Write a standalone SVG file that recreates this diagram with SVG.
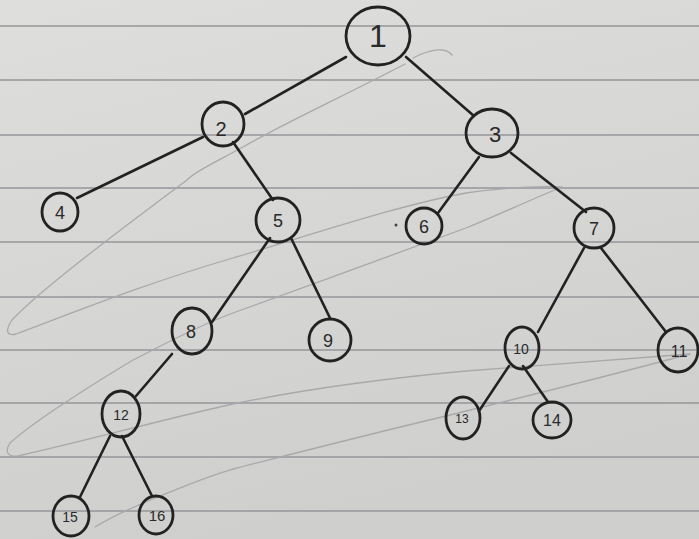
<svg xmlns="http://www.w3.org/2000/svg" width="699" height="539" viewBox="0 0 699 539">
<defs>
<linearGradient id="paper" x1="0" y1="0" x2="0.3" y2="1">
<stop offset="0" stop-color="#dededd"/>
<stop offset="1" stop-color="#cfcfce"/>
</linearGradient>
<style>
.rule{stroke:#96969a;stroke-width:1.6;fill:none}
.pencil{stroke:#a9a9ab;stroke-width:1.3;fill:none;stroke-linecap:round;stroke-linejoin:round}
.edge{stroke:#222;stroke-width:2.6;stroke-linecap:round;fill:none}
.node ellipse{fill:none;stroke:#222;stroke-width:2.8}
.node text{font-family:"Liberation Sans","DejaVu Sans",sans-serif;fill:#2a2a2a;text-anchor:middle}
</style>
</defs>
<rect width="699" height="539" fill="url(#paper)"/>
<g id="ruling">
<line class="rule" x1="0" y1="26" x2="699" y2="26"/>
<line class="rule" x1="0" y1="80" x2="699" y2="80"/>
<line class="rule" x1="0" y1="135" x2="699" y2="135"/>
<line class="rule" x1="0" y1="188" x2="699" y2="188"/>
<line class="rule" x1="0" y1="242" x2="699" y2="242"/>
<line class="rule" x1="0" y1="297" x2="699" y2="297"/>
<line class="rule" x1="0" y1="350" x2="699" y2="350"/>
<line class="rule" x1="0" y1="403" x2="699" y2="403"/>
<line class="rule" x1="0" y1="457" x2="699" y2="457"/>
<line class="rule" x1="0" y1="511" x2="699" y2="511"/>
</g>
<g id="scribble">
<path class="pencil" d="M413,58 C428,50 445,46 452,55"/>
<path class="pencil" d="M405,64 C340,98 290,120 243,147 C210,165 195,172 187,180 C120,230 40,290 12,320 C4,332 8,336 16,334 C80,310 150,282 233,258 C320,232 400,205 466,193 C510,187 540,186 562,187 C530,200 500,214 466,228 C390,256 310,285 233,313 C195,327 165,344 133,360 C80,392 30,425 10,443 C4,452 8,457 18,456 C90,440 160,420 233,404 C310,388 390,378 466,371 C560,364 640,358 690,354 C600,378 520,398 446,416 C370,434 300,452 233,469 C205,477 180,488 160,496 C130,508 110,518 95,527"/>
<circle cx="396" cy="225" r="1.5" fill="#444"/>
</g>
<g id="connectors">
<line class="edge" x1="346" y1="57" x2="245" y2="114"/>
<line class="edge" x1="406" y1="57" x2="474" y2="116"/>
<line class="edge" x1="203" y1="137" x2="77" y2="198"/>
<line class="edge" x1="233" y1="142" x2="273" y2="200"/>
<line class="edge" x1="479" y1="157" x2="438" y2="213"/>
<line class="edge" x1="511" y1="153" x2="586" y2="212"/>
<line class="edge" x1="270" y1="238" x2="212" y2="322"/>
<line class="edge" x1="291" y1="238" x2="330" y2="318"/>
<line class="edge" x1="584" y1="248" x2="538" y2="332"/>
<line class="edge" x1="601" y1="248" x2="666" y2="332"/>
<line class="edge" x1="172" y1="354" x2="136" y2="396"/>
<line class="edge" x1="110" y1="436" x2="80" y2="497"/>
<line class="edge" x1="122" y1="436" x2="152" y2="496"/>
<line class="edge" x1="509" y1="366" x2="479" y2="411"/>
<line class="edge" x1="523" y1="366" x2="548" y2="402"/>
</g>
<g id="n1" class="node"><ellipse cx="378" cy="36" rx="32" ry="29"/><text x="378" y="47" font-size="32">1</text></g>
<g id="n2" class="node"><ellipse cx="223" cy="124" rx="21" ry="22"/><text x="221" y="136" font-size="20">2</text></g>
<g id="n3" class="node"><ellipse cx="492" cy="133" rx="26" ry="24"/><text x="495" y="142" font-size="22">3</text></g>
<g id="n4" class="node"><ellipse cx="60" cy="212" rx="18" ry="19"/><text x="60" y="219" font-size="18">4</text></g>
<g id="n5" class="node"><ellipse cx="278" cy="220" rx="22" ry="22"/><text x="278" y="227" font-size="18">5</text></g>
<g id="n6" class="node"><ellipse cx="424" cy="226" rx="18" ry="18"/><text x="424" y="233" font-size="18">6</text></g>
<g id="n7" class="node"><ellipse cx="594" cy="228" rx="20" ry="20"/><text x="594" y="235" font-size="18">7</text></g>
<g id="n8" class="node"><ellipse cx="192" cy="331" rx="20" ry="23"/><text x="191" y="338" font-size="18">8</text></g>
<g id="n9" class="node"><ellipse cx="330" cy="340" rx="21" ry="21"/><text x="328" y="347" font-size="18">9</text></g>
<g id="n10" class="node"><ellipse cx="522" cy="348" rx="17" ry="21"/><text x="521" y="354" font-size="14">10</text></g>
<g id="n11" class="node"><ellipse cx="678" cy="350" rx="20" ry="22"/><text x="679" y="357" font-size="16">11</text></g>
<g id="n12" class="node"><ellipse cx="121" cy="414" rx="19" ry="23"/><text x="121" y="420" font-size="14">12</text></g>
<g id="n13" class="node"><ellipse cx="463" cy="418" rx="17" ry="21"/><text x="462" y="423" font-size="12">13</text></g>
<g id="n14" class="node"><ellipse cx="552" cy="420" rx="19" ry="18"/><text x="552" y="426" font-size="16">14</text></g>
<g id="n15" class="node"><ellipse cx="71" cy="516" rx="18" ry="20"/><text x="70" y="522" font-size="14">15</text></g>
<g id="n16" class="node"><ellipse cx="156" cy="515" rx="17" ry="19"/><text x="157" y="521" font-size="15">16</text></g>
</svg>
